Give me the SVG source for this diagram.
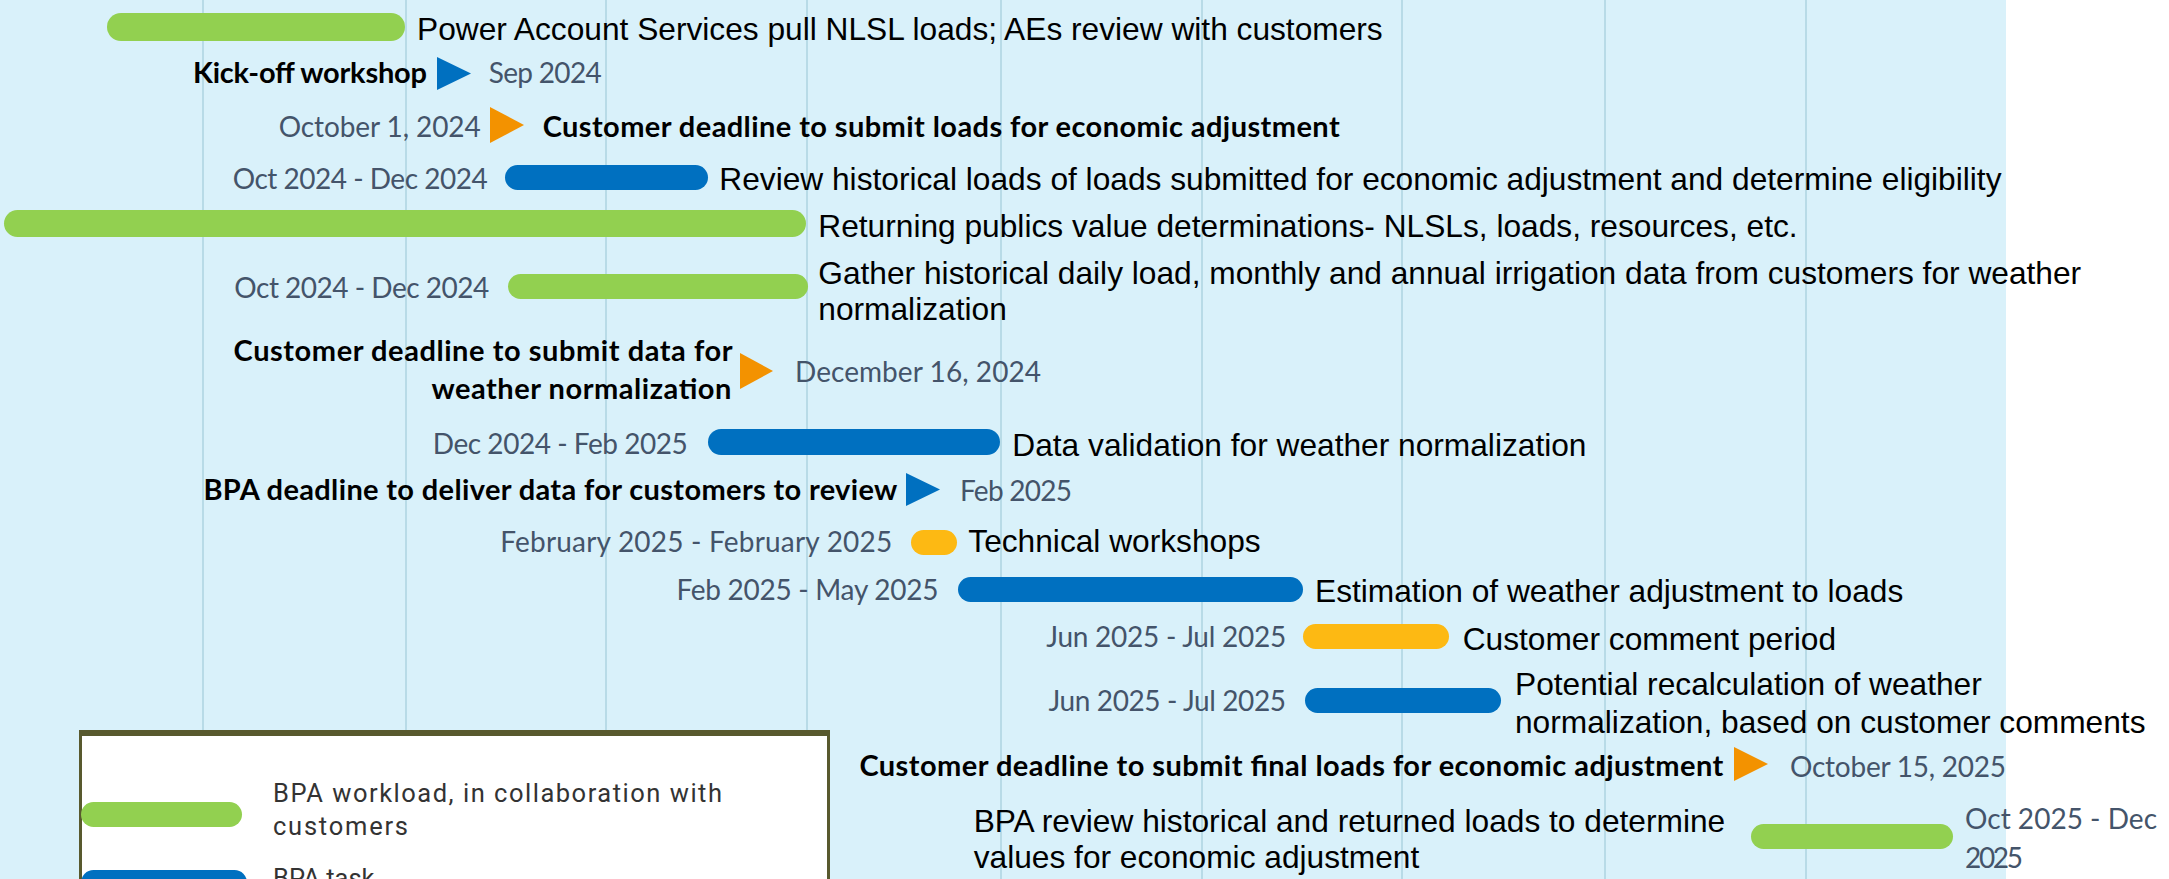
<svg xmlns="http://www.w3.org/2000/svg" width="2169" height="879" viewBox="0 0 2169 879">
<style>
.bg{fill:#D9F1FA}
.grid{stroke:#B8DBE7;stroke-width:2}
.green{fill:#92D050}
.blue{fill:#0070C0}
.gold{fill:#FDB913}
.orange{fill:#F39200}
.desc{font-family:"Liberation Sans",Arial,sans-serif;font-size:31.7px;fill:#000}
.bold{font-family:Lato,"Liberation Sans",sans-serif;font-weight:700;font-size:29px;fill:#000}
.date{font-family:Lato,"Liberation Sans",sans-serif;font-weight:400;font-size:28px;fill:#44546A}
.leg{font-family:Roboto,"Liberation Sans",sans-serif;font-size:25.5px;fill:#333}
</style>
<rect x="0" y="0" width="2169" height="879" fill="#FFFFFF"/>
<rect class="bg" x="0" y="0" width="2006" height="879"/>
<g id="grid">
<line class="grid" x1="203" y1="0" x2="203" y2="879"/>
<line class="grid" x1="406" y1="0" x2="406" y2="879"/>
<line class="grid" x1="606" y1="0" x2="606" y2="879"/>
<line class="grid" x1="807" y1="0" x2="807" y2="879"/>
<line class="grid" x1="1001" y1="0" x2="1001" y2="879"/>
<line class="grid" x1="1202" y1="0" x2="1202" y2="879"/>
<line class="grid" x1="1402" y1="0" x2="1402" y2="879"/>
<line class="grid" x1="1605" y1="0" x2="1605" y2="879"/>
<line class="grid" x1="1806" y1="0" x2="1806" y2="879"/>
</g>
<g id="connectors"></g>

<g id="task-power-account">
<rect class="green" x="107" y="13" width="298" height="28" rx="14"/>
<text class="desc" x="417" y="40">Power Account Services pull NLSL loads; AEs review with customers</text>
</g>

<g id="milestone-kickoff">
<text class="bold" x="193" y="83" textLength="234">Kick-off workshop</text>
<polygon class="blue" points="437,57 471,73.5 437,90"/>
<text class="date" x="488.7" y="83" textLength="113">Sep 2024</text>
</g>

<g id="milestone-oct1">
<text class="date" x="278.7" y="137" textLength="202">October 1, 2024</text>
<polygon class="orange" points="490,107 524,125 490,143"/>
<text class="bold" x="542.7" y="137" textLength="797">Customer deadline to submit loads for economic adjustment</text>
</g>

<g id="task-review-historical">
<text class="date" x="232.7" y="189" textLength="255">Oct 2024 - Dec 2024</text>
<rect class="blue" x="505" y="165" width="203" height="25" rx="12.5"/>
<text class="desc" x="719.3" y="190">Review historical loads of loads submitted for economic adjustment and determine eligibility</text>
</g>

<g id="task-returning-publics">
<rect class="green" x="4" y="210" width="802" height="27" rx="13.5"/>
<text class="desc" x="818.3" y="237">Returning publics value determinations- NLSLs, loads, resources, etc.</text>
</g>

<g id="task-gather-data">
<text class="date" x="234.3" y="298" textLength="255">Oct 2024 - Dec 2024</text>
<rect class="green" x="508" y="274" width="300" height="25" rx="12.5"/>
<text class="desc" x="818.3" y="284">Gather historical daily load, monthly and annual irrigation data from customers for weather</text>
<text class="desc" x="818.3" y="320">normalization</text>
</g>

<g id="milestone-dec16">
<text class="bold" x="233.6" y="361" textLength="499">Customer deadline to submit data for</text>
<text class="bold" x="431.4" y="399" textLength="300">weather normalization</text>
<polygon class="orange" points="740,353 773,371 740,389"/>
<text class="date" x="795" y="382" textLength="246">December 16, 2024</text>
</g>

<g id="task-data-validation">
<text class="date" x="432.8" y="454" textLength="255">Dec 2024 - Feb 2025</text>
<rect class="blue" x="708" y="429" width="292" height="26" rx="13"/>
<text class="desc" x="1012.3" y="456">Data validation for weather normalization</text>
</g>

<g id="milestone-feb2025">
<text class="bold" x="203.4" y="500" textLength="694">BPA deadline to deliver data for customers to review</text>
<polygon class="blue" points="906,473 940,489.5 906,506"/>
<text class="date" x="960" y="501" textLength="112">Feb 2025</text>
</g>

<g id="task-technical-workshops">
<text class="date" x="500.2" y="552" textLength="392">February 2025 - February 2025</text>
<rect class="gold" x="911" y="530" width="46" height="25" rx="12.5"/>
<text class="desc" x="968.3" y="552">Technical workshops</text>
</g>

<g id="task-estimation">
<text class="date" x="676.4" y="600" textLength="262">Feb 2025 - May 2025</text>
<rect class="blue" x="958" y="577" width="345" height="25" rx="12.5"/>
<text class="desc" x="1315" y="602">Estimation of weather adjustment to loads</text>
</g>

<g id="task-comment-period">
<text class="date" x="1046.2" y="647" textLength="240">Jun 2025 - Jul 2025</text>
<rect class="gold" x="1303" y="624" width="146" height="25" rx="12.5"/>
<text class="desc" x="1462.7" y="650">Customer comment period</text>
</g>

<g id="task-recalculation">
<text class="date" x="1048.5" y="711" textLength="237.5">Jun 2025 - Jul 2025</text>
<rect class="blue" x="1305" y="688" width="196" height="25" rx="12.5"/>
<text class="desc" x="1515" y="695">Potential recalculation of weather</text>
<text class="desc" x="1515" y="733">normalization, based on customer comments</text>
</g>

<g id="milestone-oct15">
<text class="bold" x="859.4" y="776" textLength="864">Customer deadline to submit final loads for economic adjustment</text>
<polygon class="orange" points="1734,747 1768,764 1734,781"/>
<text class="date" x="1790" y="777" textLength="216">October 15, 2025</text>
</g>

<g id="task-bpa-review">
<text class="desc" x="973.7" y="831.5">BPA review historical and returned loads to determine</text>
<text class="desc" x="973.7" y="868">values for economic adjustment</text>
<rect class="green" x="1751" y="824" width="202" height="25" rx="12.5"/>
<text class="date" x="1965" y="829" textLength="192">Oct 2025 - Dec</text>
<text class="date" x="1965" y="868" textLength="58">2025</text>
</g>

<g id="legend">
<rect x="80.5" y="732" width="748" height="200" fill="#FFFFFF" stroke="#58592E" stroke-width="3"/>
<rect x="79" y="730" width="751" height="6" fill="#58592E"/>
<rect class="green" x="81" y="802" width="161" height="25" rx="12.5"/>
<text class="leg" x="273" y="801.7" textLength="449">BPA workload, in collaboration with</text>
<text class="leg" x="273" y="835" textLength="135">customers</text>
<rect class="blue" x="81" y="870" width="166" height="25" rx="12.5"/>
<text class="leg" x="273" y="887">BPA task</text>
</g>
</svg>
